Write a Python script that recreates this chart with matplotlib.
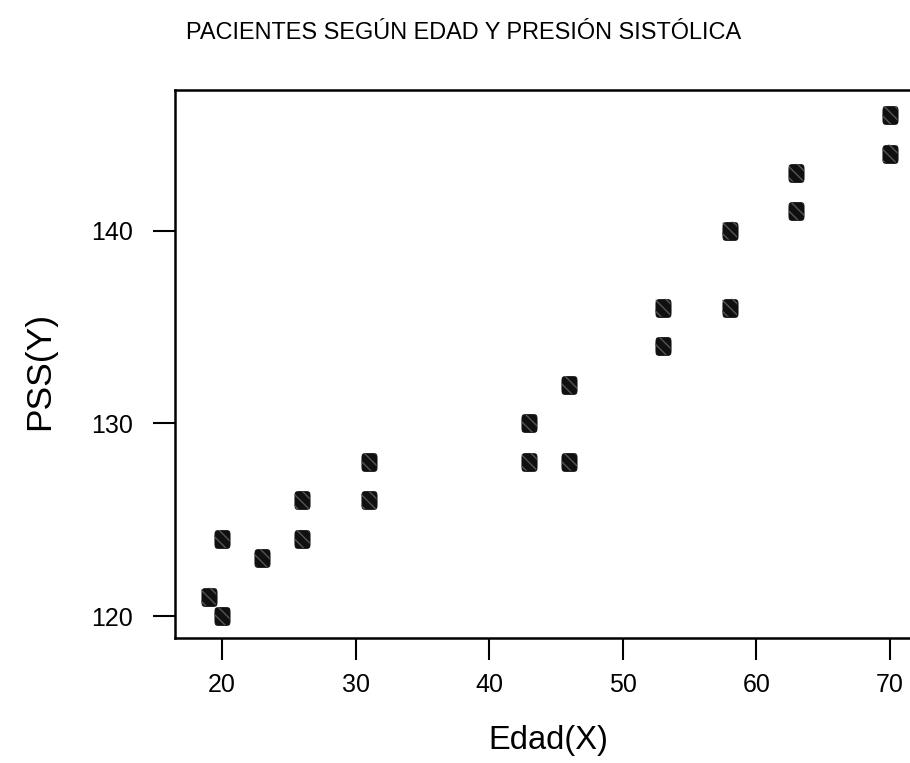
import matplotlib
matplotlib.use('Agg')
import matplotlib.pyplot as plt
import matplotlib.path as mpath
import numpy as np
from matplotlib import font_manager

# edad (X) y presion sistolica (Y) de los pacientes
edad = [19, 20, 20, 23, 26, 26, 31, 31, 43, 43, 46, 46, 53, 53, 58, 58, 63, 63, 70, 70]
pss = [121, 124, 120, 123, 126, 124, 128, 126, 130, 128, 132, 128, 136, 134, 140, 136, 143, 141, 146, 144]

xticks = [20, 30, 40, 50, 60, 70]
yticks = [120, 130, 140]

names = {f.name for f in font_manager.fontManager.ttflist}
fam = 'Liberation Sans' if 'Liberation Sans' in names else 'DejaVu Sans'
title_fam = 'Liberation Sans Narrow' if 'Liberation Sans Narrow' in names else fam
plt.rcParams['font.family'] = fam

# rounded square marker, a bit taller than wide
t = np.linspace(0, 2 * np.pi, 60)
p = 0.3
mx = 0.85 * np.sign(np.cos(t)) * np.abs(np.cos(t)) ** p
my = np.sign(np.sin(t)) * np.abs(np.sin(t)) ** p
rsq = mpath.Path(np.column_stack((mx, my)), closed=True)

fig = plt.figure(figsize=(9.1, 7.63), dpi=100)
# the plot frame runs past the right edge of the picture
ax = fig.add_axes([175 / 910, 125 / 763, 755 / 910, 548 / 763])

ax.scatter(edad, pss, s=165, marker=rsq, facecolor='#101010', edgecolor='#101010',
           linewidth=0.6, zorder=3)
ax.scatter(edad, pss, s=165, marker=rsq, facecolor='none', edgecolor='#555555',
           hatch='\\\\\\', linewidth=0, zorder=4)

ax.set_xlim(16.48, 73.0)
ax.set_ylim(118.86, 147.3)
ax.set_xticks(xticks)
ax.set_yticks(yticks)
ax.tick_params(direction='out', length=16, width=1.5, labelsize=18, colors='black')
ax.tick_params(axis='x', pad=9)
ax.tick_params(axis='y', pad=14)

for sp in ax.spines.values():
    sp.set_linewidth(1.8)

ax.set_xlabel('Edad(X)', fontsize=23.5)
ax.set_ylabel('PSS(Y)', fontsize=25.5)
ax.xaxis.set_label_coords(0.494, -0.159)
ax.yaxis.set_label_coords(-0.158, 0.488)

title = fig.text(186 / 910, 1 - 33 / 763, 'PACIENTES SEGÚN EDAD Y PRESIÓN SISTÓLICA',
                 fontsize=21, family=title_fam, ha='left', va='center')
# fit the title width to the reference (about 555 px)
r = fig.canvas.get_renderer()
w = title.get_window_extent(r).width
title.set_fontsize(21 * 555 / w if w > 0 else 17)

fig.savefig('out.png', dpi=100)
